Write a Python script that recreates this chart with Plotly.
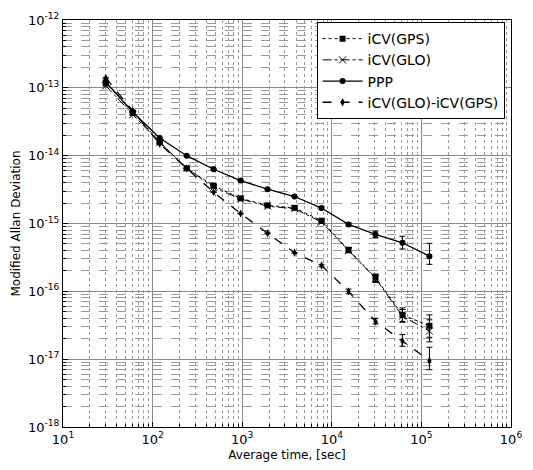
import plotly.graph_objects as go

tau = [30, 60, 120, 240, 480, 960, 1920, 3840, 7680, 15360, 30720, 61440, 122880]

gps = [1.2e-13, 4.3e-14, 1.6e-14, 6.5e-15, 3.6e-15, 2.35e-15, 1.85e-15, 1.7e-15,
       1.1e-15, 4.1e-16, 1.6e-16, 4.5e-17, 3.1e-17]
glo = [1.07e-13, 4.0e-14, 1.55e-14, 6.6e-15, 3.4e-15, 2.3e-15, 1.8e-15, 1.65e-15,
       1.05e-15, 4.0e-16, 1.55e-16, 4.3e-17, 2.6e-17]
ppp = [1.22e-13, 4.4e-14, 1.82e-14, 1.0e-14, 6.3e-15, 4.3e-15, 3.2e-15, 2.5e-15,
       1.69e-15, 9.7e-16, 6.9e-16, 5.2e-16, 3.3e-16]
diff = [1.4e-13, 4.6e-14, 1.5e-14, 6.5e-15, 2.9e-15, 1.4e-15, 7.2e-16, 3.7e-16,
        2.4e-16, 1.0e-16, 3.6e-17, 1.85e-17, 9.5e-18]

# error bars (absolute, plus / minus)
gps_ep = [0, 0, 0, 0, 0, 0, 0, 0, 0.05e-15, 0.3e-16, 0.2e-16, 1.2e-17, 1.4e-17]
gps_em = [0, 0, 0, 0, 0, 0, 0, 0, 0.05e-15, 0.3e-16, 0.2e-16, 0.9e-17, 1.0e-17]
glo_ep = [0, 0, 0, 0, 0, 0, 0, 0, 0.05e-15, 0.3e-16, 0.2e-16, 1.1e-17, 1.2e-17]
glo_em = [0, 0, 0, 0, 0, 0, 0, 0, 0.05e-15, 0.3e-16, 0.2e-16, 0.8e-17, 0.8e-17]
ppp_ep = [0, 0, 0, 0, 0, 0, 0, 0, 0.08e-15, 0.6e-16, 0.8e-16, 1.3e-16, 1.8e-16]
ppp_em = [0, 0, 0, 0, 0, 0, 0, 0, 0.08e-15, 0.5e-16, 0.7e-16, 1.0e-16, 0.8e-16]
diff_ep = [0, 0, 0, 0, 0, 0, 0, 0, 0.1e-16, 0.08e-16, 0.4e-17, 0.45e-17, 0.55e-17]
diff_em = [0, 0, 0, 0, 0, 0, 0, 0, 0.1e-16, 0.08e-16, 0.3e-17, 0.3e-17, 0.25e-17]

x_ticks = [10, 100, 1000, 10000, 100000, 1000000]
x_text = ["10<sup>1</sup>", "10<sup>2</sup>", "10<sup>3</sup>", "10<sup>4</sup>",
          "10<sup>5</sup>", "10<sup>6</sup>"]
y_ticks = [1e-18, 1e-17, 1e-16, 1e-15, 1e-14, 1e-13, 1e-12]
y_text = ["10<sup>-18</sup>", "10<sup>-17</sup>", "10<sup>-16</sup>", "10<sup>-15</sup>",
          "10<sup>-14</sup>", "10<sup>-13</sup>", "10<sup>-12</sup>"]

fig = go.Figure()


def err(p, m):
    return dict(type="data", symmetric=False, array=p, arrayminus=m,
                color="black", thickness=1, width=3)


fig.add_trace(go.Scatter(x=tau, y=gps, name="iCV(GPS)", mode="lines+markers",
                         line=dict(color="black", width=1, dash="dot"),
                         marker=dict(symbol="square", size=6, color="black"),
                         error_y=err(gps_ep, gps_em)))
fig.add_trace(go.Scatter(x=tau, y=glo, name="iCV(GLO)", mode="lines+markers",
                         line=dict(color="black", width=1, dash="dashdot"),
                         marker=dict(symbol="x-thin", size=7, color="black",
                                     line=dict(color="black", width=1)),
                         error_y=err(glo_ep, glo_em)))
fig.add_trace(go.Scatter(x=tau, y=ppp, name="PPP", mode="lines+markers",
                         line=dict(color="black", width=1.3),
                         marker=dict(symbol="circle", size=6, color="black"),
                         error_y=err(ppp_ep, ppp_em)))
fig.add_trace(go.Scatter(x=tau, y=diff, name="iCV(GLO)-iCV(GPS)", mode="lines+markers",
                         line=dict(color="black", width=1.3, dash="dash"),
                         marker=dict(symbol="diamond-tall", size=6, color="black"),
                         error_y=err(diff_ep, diff_em)))

font = "DejaVu Sans"
fig.update_layout(
    width=533, height=470,
    margin=dict(l=63, r=11, t=15, b=34),
    paper_bgcolor="white", plot_bgcolor="white",
    font=dict(family=font, color="black", size=13),
    showlegend=True,
    legend=dict(x=0.566, y=0.995, xanchor="left", yanchor="top",
                bgcolor="white", bordercolor="black", borderwidth=1,
                font=dict(size=14, family=font), tracegroupgap=0,
                itemwidth=40),
)
fig.update_xaxes(
    type="log", range=[1, 6], tickvals=x_ticks, ticktext=x_text,
    showline=True, mirror=True, linecolor="black", linewidth=1.2,
    ticks="inside", ticklen=5, tickcolor="black",
    showgrid=True, gridcolor="#8a8a8a", gridwidth=1,
    zeroline=False,
    minor=dict(dtick="D1", showgrid=True, gridcolor="#9a9a9a", griddash="dot",
               ticks="inside", ticklen=3, tickcolor="black"),
    title=dict(text="Average time, [sec]", font=dict(size=12), standoff=4),
    tickfont=dict(size=13),
)
fig.update_yaxes(
    type="log", range=[-18, -12], tickvals=y_ticks, ticktext=y_text,
    showline=True, mirror=True, linecolor="black", linewidth=1.2,
    ticks="inside", ticklen=5, tickcolor="black",
    showgrid=True, gridcolor="#8a8a8a", gridwidth=1,
    zeroline=False,
    minor=dict(dtick="D1", showgrid=True, gridcolor="#9a9a9a", griddash="dash",
               ticks="inside", ticklen=3, tickcolor="black"),
    title=dict(text="Modified Allan Deviation", font=dict(size=12), standoff=4),
    tickfont=dict(size=13),
)

fig.write_html("out.html")
